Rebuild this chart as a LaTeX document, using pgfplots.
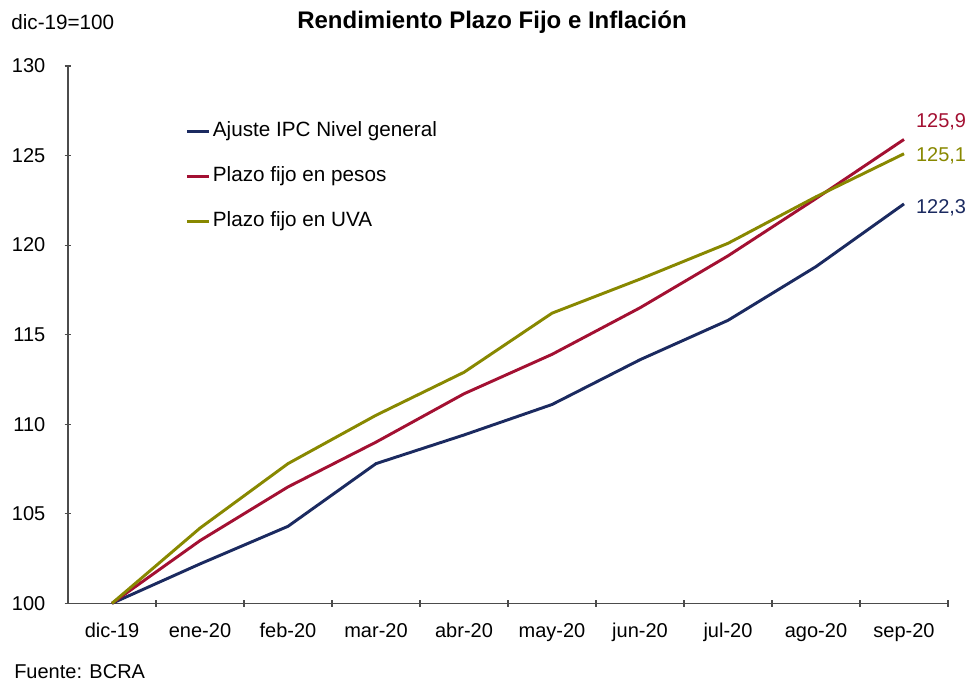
\documentclass[border=0pt]{standalone}
\usepackage{pgfplots}
\pgfplotsset{compat=1.18}
\usepackage{fontspec}
\setmainfont{Liberation Sans}

\definecolor{ipcnavy}{RGB}{27,42,96}
\definecolor{pfred}{RGB}{163,16,50}
\definecolor{uvaolive}{RGB}{136,136,0}

\begin{document}
\begin{tikzpicture}
\useasboundingbox (-51pt,-58.5pt) rectangle (674.25pt,452.5pt);
\begin{axis}[
    scale only axis,
    width=660pt, height=403pt,
    at={(0,0)}, anchor=south west,
    xmin=-0.5, xmax=9.5,
    ymin=100, ymax=130,
    ytick={100,105,...,130},
    xtick={0,...,9},
    xticklabels={dic-19,ene-20,feb-20,mar-20,abr-20,may-20,jun-20,jul-20,ago-20,sep-20},
    minor xtick={0.5,1.5,...,9.5},
    major x tick style={draw=none},
    tick align=inside,
    major tick length=5pt,
    minor tick length=5pt,
    axis lines=left,
    axis line style={-, black!70, line width=0.8pt},
    every tick/.style={black!70, line width=0.8pt},
    tick label style={font=\fontsize{15}{18}\selectfont, black},
    yticklabel style={xshift=-11pt},
    xticklabel style={yshift=-9pt},
    /pgf/number format/assume math mode=true,
    clip=false,
    legend cell align=left,
    legend style={draw=none, fill=none, inner sep=0pt,
        at={(rel axis cs:0.133,0.9)}, anchor=north west,
        font=\fontsize{15.5}{18}\selectfont, row sep=16.7pt,
        nodes={inner sep=1.5pt, text height=11pt, text depth=3pt}},
    legend image code/.code={\draw[#1] (0pt,0pt) -- (17pt,0pt);},
]
\addplot[ipcnavy, line width=2.2pt] coordinates {
    (0,100) (1,102.2) (2,104.3) (3,107.8) (4,109.4) (5,111.1) (6,113.6) (7,115.8) (8,118.8) (9,122.3)};
\addlegendentry{Ajuste IPC Nivel general}
\addplot[pfred, line width=2.2pt] coordinates {
    (0,100) (1,103.5) (2,106.5) (3,109.0) (4,111.7) (5,113.9) (6,116.5) (7,119.4) (8,122.6) (9,125.9)};
\addlegendentry{Plazo fijo en pesos}
\addplot[uvaolive, line width=2.2pt] coordinates {
    (0,100) (1,104.2) (2,107.8) (3,110.5) (4,112.9) (5,116.2) (6,118.1) (7,120.1) (8,122.7) (9,125.1)};
\addlegendentry{Plazo fijo en UVA}

\node[anchor=west, text=pfred, font=\fontsize{15}{18}\selectfont, xshift=5.5pt, yshift=13.5pt] at (axis cs:9,125.9) {125,9};
\node[anchor=west, text=uvaolive, font=\fontsize{15}{18}\selectfont, xshift=5.5pt, yshift=-1.5pt] at (axis cs:9,125.1) {125,1};
\node[anchor=west, text=ipcnavy, font=\fontsize{15}{18}\selectfont, xshift=5.5pt, yshift=-3pt] at (axis cs:9,122.3) {122,3};
\end{axis}
\node[anchor=west, font=\fontsize{15.5}{18}\selectfont] at (-46pt,435.75pt) {dic-19=100};
\node[font=\fontsize{18}{21}\selectfont\bfseries] at (318pt,435.75pt) {Rendimiento Plazo Fijo e Inflación};
\node[anchor=base west, inner sep=0pt, font=\fontsize{15}{18}\selectfont] at (-40.5pt,-56.5pt) {Fuente: BCRA};
\end{tikzpicture}
\end{document}
